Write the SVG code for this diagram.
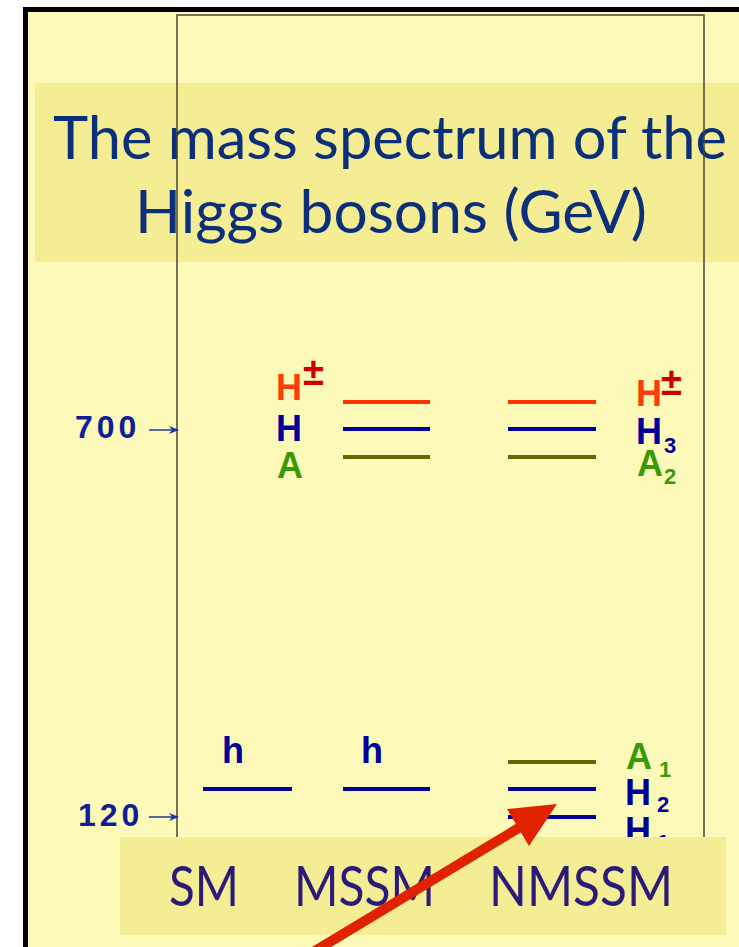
<svg xmlns="http://www.w3.org/2000/svg" width="739" height="947" viewBox="0 0 739 947">
<defs>
<style>
.title{font-family:Lato,"Open Sans","Liberation Sans",sans-serif;font-size:60px;fill:#0b3079}
.model{font-family:Lato,"Open Sans","Liberation Sans",sans-serif;font-size:57px;fill:#2b1a78}
.lab{font-family:"Liberation Sans",Arial,sans-serif;font-weight:bold;font-size:36px}
.sub{font-family:"Liberation Sans",Arial,sans-serif;font-weight:bold;font-size:22px}
.pm{font-family:"Liberation Sans",Arial,sans-serif;font-weight:bold;font-size:38px;fill:#cc0000}
.num{font-family:"Liberation Sans",Arial,sans-serif;font-weight:bold;font-size:32px;fill:#0d1e96;letter-spacing:4px}
.red{fill:#ff3b0a}.blue{fill:#000099}.green{fill:#3a9a06}
.lr{stroke:#ff3300;stroke-width:4}.lb{stroke:#000099;stroke-width:4}.lo{stroke:#666600;stroke-width:4}
.band{fill:#f4ed93}
</style>
<marker id="ah" markerWidth="10" markerHeight="8" refX="9" refY="4" orient="auto" markerUnits="userSpaceOnUse">
<path d="M0,0 L10,4 L0,8 L3,4 Z" fill="#1a3a9a"/>
</marker>
</defs>
<rect x="0" y="0" width="739" height="947" fill="#ffffff"/>
<rect x="25.5" y="9.5" width="800" height="1000" fill="#fdf9b9" stroke="#000" stroke-width="5"/>
<g id="title">
<rect class="band" x="35" y="83" width="704" height="179"/>
<text class="title" x="53" y="159" textLength="674" lengthAdjust="spacingAndGlyphs">The mass spectrum of the</text>
<text class="title" x="135" y="233" textLength="512" lengthAdjust="spacingAndGlyphs">Higgs bosons (GeV)</text>
</g>
<rect id="frame" x="177" y="15" width="527" height="880" fill="none" stroke="#45453a" stroke-width="1.5"/>
<g id="axis">
<text class="num" x="75" y="438">700</text>
<text class="num" x="78" y="826">120</text>
</g>
<g id="sm">
<line class="lb" x1="203" y1="789" x2="292" y2="789"/>
<text class="lab blue" x="222" y="763">h</text>
</g>
<g id="mssm">
<line class="lr" x1="343" y1="402" x2="430" y2="402"/>
<line class="lb" x1="343" y1="429" x2="430" y2="429"/>
<line class="lo" x1="343" y1="457" x2="430" y2="457"/>
<text class="lab red" x="276" y="400">H</text>
<text class="pm" x="303" y="385">±</text>
<text class="lab blue" x="276" y="441">H</text>
<text class="lab green" x="277" y="478">A</text>
<line class="lb" x1="343" y1="789" x2="430" y2="789"/>
<text class="lab blue" x="361" y="763">h</text>
</g>
<g id="nmssm">
<line class="lr" x1="508" y1="402" x2="596" y2="402"/>
<line class="lb" x1="508" y1="429" x2="596" y2="429"/>
<line class="lo" x1="508" y1="457" x2="596" y2="457"/>
<text class="lab red" x="636" y="406">H</text>
<text class="pm" x="661" y="395">±</text>
<text class="lab blue" x="636" y="444">H</text>
<text class="sub blue" x="664" y="453">3</text>
<text class="lab green" x="637" y="476">A</text>
<text class="sub green" x="664" y="484">2</text>
<line class="lo" x1="508" y1="762" x2="596" y2="762"/>
<line class="lb" x1="508" y1="789" x2="596" y2="789"/>
<line class="lb" x1="508" y1="817" x2="596" y2="817"/>
<text class="lab green" x="626" y="769">A</text>
<text class="sub green" x="659" y="777">1</text>
<text class="lab blue" x="625" y="805">H</text>
<text class="sub blue" x="657" y="812">2</text>
<text class="lab blue" x="625" y="843">H</text>
<text class="sub blue" x="657" y="850">1</text>
</g>
<g id="models">
<rect class="band" x="120" y="837" width="606" height="98"/>
<text class="model" x="169" y="906" textLength="70" lengthAdjust="spacingAndGlyphs">SM</text>
<text class="model" x="294" y="906" textLength="141" lengthAdjust="spacingAndGlyphs">MSSM</text>
<text class="model" x="489" y="906" textLength="184" lengthAdjust="spacingAndGlyphs">NMSSM</text>
</g>
<g id="connectors">
<line x1="149" y1="430" x2="178" y2="430" stroke="#1a3a9a" stroke-width="1.5" marker-end="url(#ah)"/>
<line x1="149" y1="817" x2="178" y2="817" stroke="#1a3a9a" stroke-width="1.5" marker-end="url(#ah)"/>
<line x1="300" y1="960" x2="522" y2="826" stroke="#e02200" stroke-width="10"/>
<polygon points="557,804 507,809 529,846" fill="#e02200"/>
</g>
</svg>
